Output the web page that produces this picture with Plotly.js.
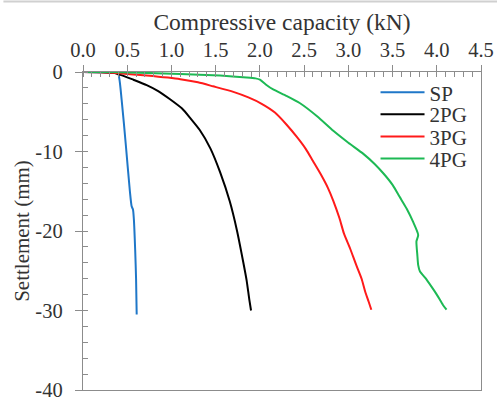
<!DOCTYPE html>
<html>
<head>
<meta charset="utf-8">
<script src="https://cdn.plot.ly/plotly-3.0.1.min.js"></script>
<style>
  html, body { margin: 0; padding: 0; background: #fff; }
  #chart { width: 497px; height: 403px; }
</style>
</head>
<body>
<div id="chart"></div>
<script>
// Load–settlement curves: compressive capacity (kN) vs settlement (mm)
const seriesNames = ['SP', '2PG', '3PG', '4PG'];
const seriesColors = ['#1f77c8', '#000000', '#ff1a1a', '#1db954'];

const spLoad = [0, 0.2, 0.37, 0.40, 0.437, 0.486, 0.53, 0.55, 0.565, 0.575, 0.59, 0.60, 0.607];
const spSettle = [0, -0.02, -0.08, -0.3, -3.5, -9.4, -15.0, -16.9, -17.3, -18.5, -22.4, -26.0, -30.5];

const pg2Load = [0, 0.2, 0.34, 0.45, 0.57, 0.72, 0.85, 0.98, 1.12, 1.22, 1.32, 1.44, 1.55, 1.66, 1.74, 1.81, 1.85, 1.88, 1.90];
const pg2Settle = [0, -0.02, -0.1, -0.45, -0.97, -1.65, -2.4, -3.4, -4.6, -5.9, -7.3, -9.6, -12.6, -16.3, -19.9, -23.8, -26.2, -28.6, -30.0];

const pg3Load = [0, 0.2, 0.34, 0.72, 1.10, 1.30, 1.47, 1.70, 1.87, 2.02, 2.17, 2.30, 2.42, 2.52, 2.60, 2.69, 2.77, 2.83, 2.90, 2.95, 3.02, 3.09, 3.15, 3.19, 3.23, 3.26];
const pg3Settle = [0, -0.02, -0.1, -0.45, -0.9, -1.3, -1.8, -2.5, -3.2, -4.0, -5.1, -6.6, -8.2, -9.7, -11.2, -12.9, -14.6, -16.2, -18.4, -20.3, -22.2, -24.3, -26.0, -27.6, -28.9, -29.9];

const pg4Load = [0, 0.34, 1.10, 1.55, 1.85, 1.95, 2.0, 2.07, 2.15, 2.30, 2.45, 2.65, 2.83, 3.00, 3.17, 3.30, 3.40, 3.50, 3.58, 3.66, 3.73, 3.79, 3.77, 3.78, 3.79, 3.81, 3.87, 3.94, 4.00, 4.07, 4.11];
const pg4Settle = [0, 0, -0.25, -0.45, -0.68, -0.8, -0.97, -1.6, -2.2, -3.0, -3.9, -5.6, -7.4, -8.9, -10.3, -11.6, -12.8, -14.2, -15.7, -17.2, -18.8, -20.5, -21.3, -23.0, -24.3, -25.1, -25.9, -27.0, -28.0, -29.3, -29.9];

// Settlement axis labels use a plain hyphen for the sign
const settleTickVals = [0, -10, -20, -30, -40];
const settleTickText = ['0', '-10', '-20', '-30', '-40'];

const loads = [spLoad, pg2Load, pg3Load, pg4Load];
const settles = [spSettle, pg2Settle, pg3Settle, pg4Settle];
const legendIds = ['legend', 'legend2', 'legend3', 'legend4'];
const legendY = [0.935, 0.866, 0.796, 0.727];

const FONT = '"Liberation Serif", "Times New Roman", serif';
const TEXT = '#333333';
const AXIS = '#8c8c8c';

const traces = seriesNames.map((name, i) => ({
  type: 'scatter',
  mode: 'lines',
  name: name,
  x: loads[i],
  y: settles[i],
  line: { color: seriesColors[i], width: 2, shape: 'spline', smoothing: 0.6 },
  legend: legendIds[i]
}));

const layout = {
  width: 497,
  height: 403,
  margin: { l: 83, r: 15.5, t: 72.3, b: 13 },
  paper_bgcolor: '#ffffff',
  plot_bgcolor: '#ffffff',
  font: { family: FONT, size: 21, color: TEXT },
  showlegend: true,
  xaxis: {
    side: 'top',
    range: [0, 4.5],
    tick0: 0,
    dtick: 0.5,
    tickformat: '.1f',
    ticks: 'outside',
    ticklen: 6,
    tickcolor: AXIS,
    tickfont: { family: FONT, size: 20.5, color: TEXT },
    showline: true,
    linecolor: AXIS,
    linewidth: 1.2,
    mirror: true,
    showgrid: false,
    zeroline: false,
    minor: { dtick: 0.1, ticks: 'inside', ticklen: 5, tickcolor: AXIS, showgrid: false },
    title: { text: 'Compressive capacity (kN)', font: { family: FONT, size: 23.5, color: TEXT }, standoff: 1 },
    fixedrange: true
  },
  xaxis2: {
    overlaying: 'x',
    matches: 'x',
    anchor: 'y',
    side: 'top',
    range: [0, 4.5],
    tick0: 0,
    dtick: 0.5,
    ticks: 'inside',
    ticklen: 5,
    tickcolor: AXIS,
    showticklabels: false,
    showline: false,
    showgrid: false,
    zeroline: false
  },
  yaxis: {
    range: [-40, 0],
    tickmode: 'array',
    tickvals: settleTickVals,
    ticktext: settleTickText,
    ticks: 'outside',
    ticklen: 7,
    tickcolor: AXIS,
    tickfont: { family: FONT, size: 20.5, color: TEXT },
    ticklabelstandoff: 8,
    showline: true,
    linecolor: AXIS,
    linewidth: 1.2,
    mirror: true,
    showgrid: false,
    zeroline: false,
    minor: { tickmode: 'linear', tick0: 0, dtick: 2, ticks: 'inside', ticklen: 5, tickcolor: AXIS, showgrid: false },
    title: { text: 'Settlement (mm)', font: { family: FONT, size: 21, color: TEXT }, standoff: 0 },
    fixedrange: true
  },
  yaxis2: {
    overlaying: 'y',
    matches: 'y',
    anchor: 'x',
    side: 'left',
    range: [-40, 0],
    tick0: 0,
    dtick: 10,
    ticks: 'inside',
    ticklen: 5,
    tickcolor: AXIS,
    showticklabels: false,
    showline: false,
    showgrid: false,
    zeroline: false
  },
  shapes: [
    { type: 'line', xref: 'paper', yref: 'paper', x0: -0.2, x1: 1.05, y0: 1.222, y1: 1.222,
      line: { color: '#d0d0d0', width: 2 } }
  ]
};

legendIds.forEach((id, i) => {
  layout[id] = {
    x: 0.735,
    xanchor: 'left',
    y: legendY[i],
    yanchor: 'middle',
    bgcolor: 'rgba(0,0,0,0)',
    borderwidth: 0,
    itemwidth: 44,
    font: { family: FONT, size: 21, color: TEXT }
  };
});

Plotly.newPlot('chart', traces, layout, { staticPlot: true, displayModeBar: false });
</script>
</body>
</html>
